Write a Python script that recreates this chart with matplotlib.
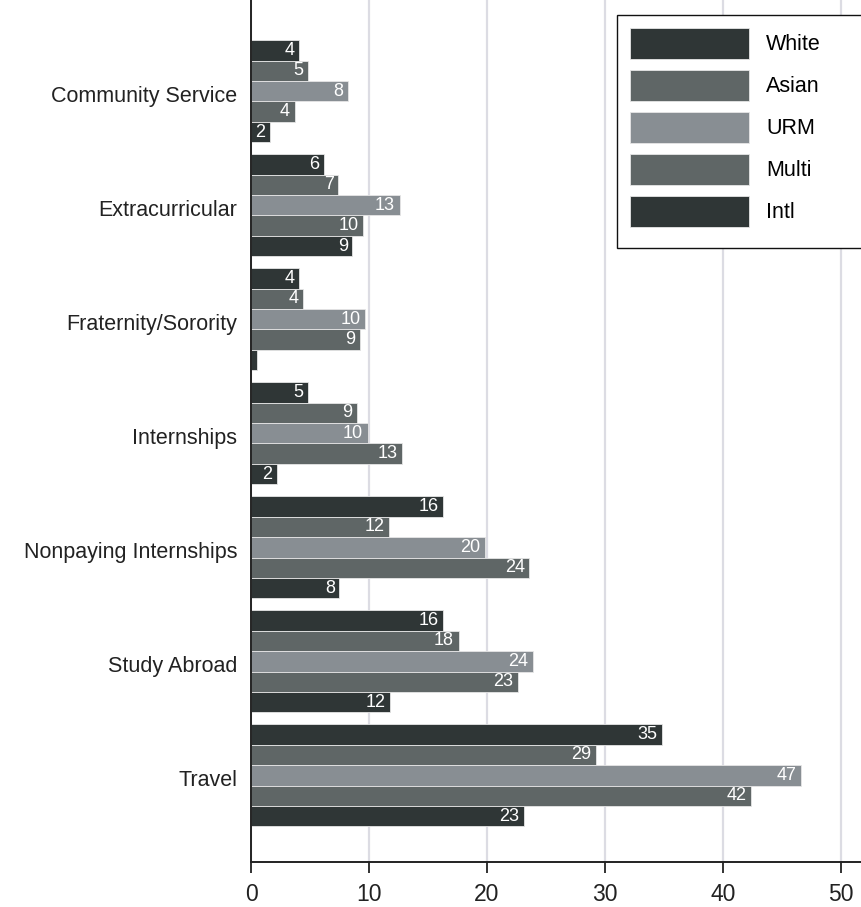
import matplotlib
matplotlib.use('Agg')
import matplotlib.pyplot as plt
from matplotlib.patches import Rectangle
from matplotlib.transforms import ScaledTranslation
import numpy as np

# activity categories, top to bottom
activities = ['Community Service', 'Extracurricular', 'Fraternity/Sorority',
              'Internships', 'Nonpaying Internships', 'Study Abroad', 'Travel']

# percent of each group, per activity
white = [4.1, 6.2, 4.1, 4.8, 16.3, 16.3, 34.8]
asian = [4.8, 7.4, 4.4, 9.0, 11.7, 17.6, 29.2]
urm = [8.2, 12.6, 9.7, 9.9, 19.8, 23.9, 46.6]
multi = [3.7, 9.5, 9.2, 12.8, 23.6, 22.6, 42.4]
intl = [1.6, 8.6, 0.5, 2.2, 7.5, 11.8, 23.1]

groups = ['White', 'Asian', 'URM', 'Multi', 'Intl']
series = [white, asian, urm, multi, intl]
colors = ['#2f3636', '#5f6666', '#888e93', '#5f6666', '#2f3636']

W, H = 861, 907
fig = plt.figure(figsize=(W / 100, H / 100), dpi=100)
ax = fig.add_axes([251 / W, 1 - 862 / H, 1 - 251 / W, 862 / H])

narrow = ['Liberation Sans Narrow', 'Liberation Sans']
n = len(series)
bar_h = 0.179
y = np.arange(len(activities))

for i, (name, vals, color) in enumerate(zip(groups, series, colors)):
    pos = y + (i - (n - 1) / 2) * bar_h
    bars = ax.barh(pos, vals, height=bar_h, color=color, label=name,
                   edgecolor='#e6e6e6', linewidth=0.6, zorder=2)
    for b, v in zip(bars, vals):
        # too short to hold a label
        if v < 1:
            continue
        ax.text(v - 0.4, b.get_y() + b.get_height() / 2, '%.0f' % v,
                ha='right', va='center', color='white',
                fontsize=13, family=narrow, zorder=3)

ax.set_xlim(0, 51.7)
ax.set_ylim(6.76, -0.80)
ax.set_yticks(y)
ax.set_yticklabels(activities, fontsize=15.5, family='Liberation Sans', color='#222222')
ax.set_xticks(np.arange(0, 51, 10))
ax.set_xticklabels([str(t) for t in range(0, 51, 10)], fontsize=16.5,
                   family=narrow, color='#222222')
ax.tick_params(axis='y', length=0, pad=10)
ax.tick_params(axis='x', length=8, width=1.3, color='#222222', pad=7)

# category names sit a little below the group centre
shift = ScaledTranslation(0, -3 / 100, fig.dpi_scale_trans)
for lbl in ax.get_yticklabels():
    lbl.set_transform(lbl.get_transform() + shift)

ax.xaxis.grid(True, color='#dcdce3', linewidth=1.6, zorder=0)
ax.set_axisbelow(True)
for side in ['top', 'right']:
    ax.spines[side].set_visible(False)
for side in ['left', 'bottom']:
    ax.spines[side].set_color('#222222')
    ax.spines[side].set_linewidth(1.4)

# legend box runs off the right edge of the figure
box = Rectangle((617 / W, 1 - 248 / H), (880 - 617) / W, 233 / H,
                transform=fig.transFigure, facecolor='white',
                edgecolor='#111111', linewidth=1.0, zorder=4, clip_on=False)
ax.add_artist(box)

leg = ax.legend(loc='upper left', bbox_to_anchor=(617 / W, 1 - 15 / H),
                bbox_transform=fig.transFigure,
                prop={'family': 'Liberation Sans', 'size': 15.5},
                handlelength=5.53, handleheight=1.85, labelspacing=0.5,
                handletextpad=0.8, borderpad=0.6, borderaxespad=0,
                frameon=False)
leg.set_zorder(5)

fig.savefig('out.png', dpi=100)
